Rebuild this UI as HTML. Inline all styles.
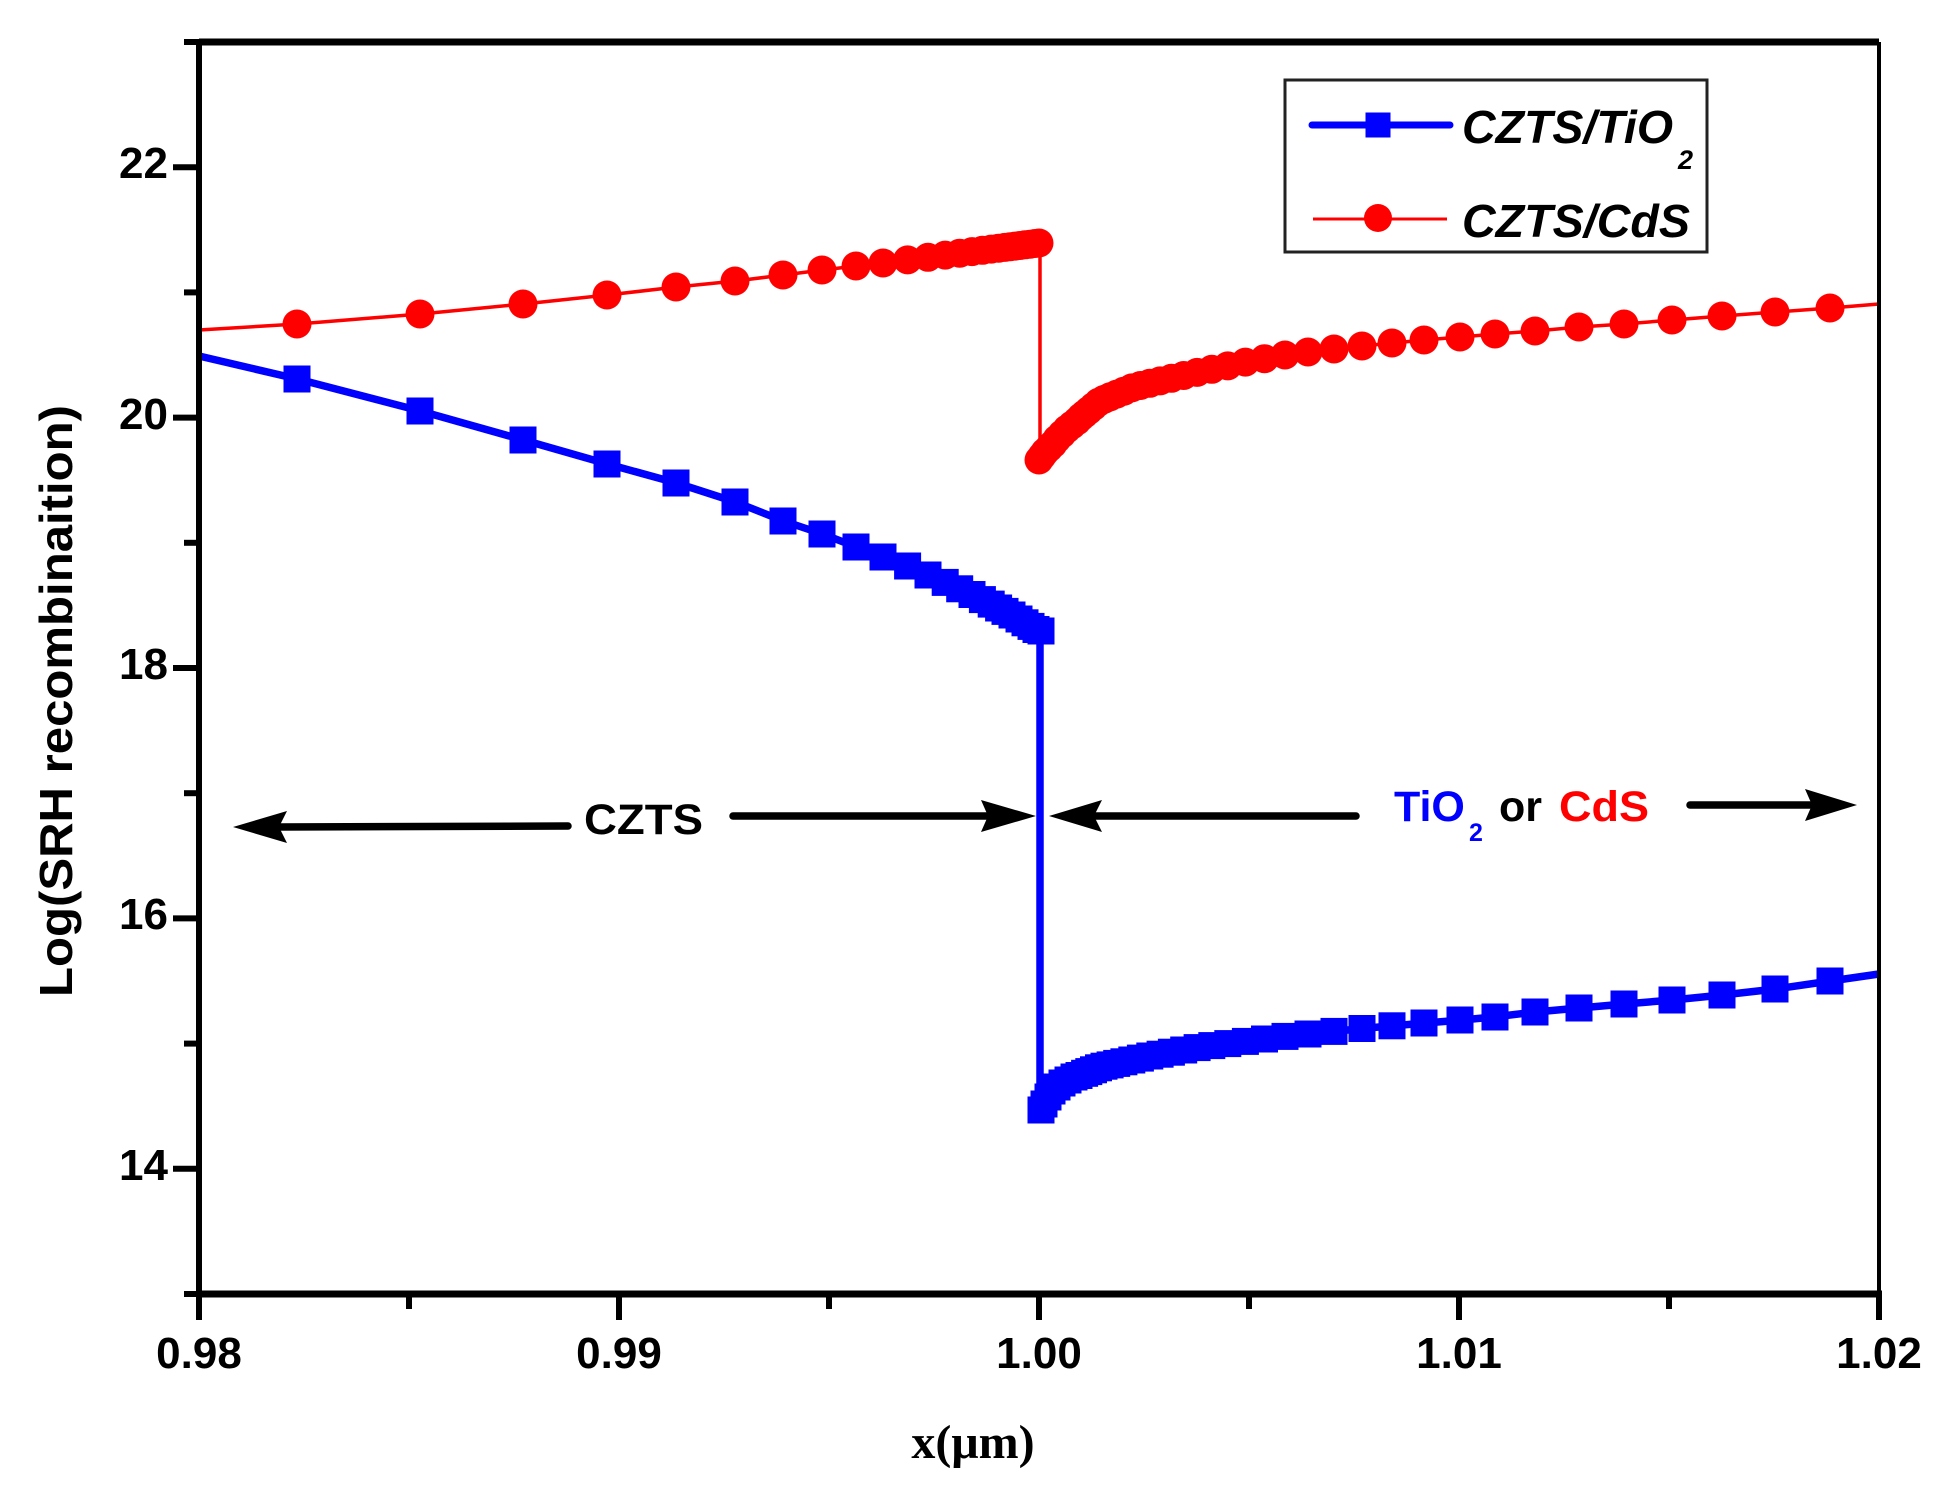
<!DOCTYPE html>
<html>
<head>
<meta charset="utf-8">
<style>
  html,body{margin:0;padding:0;background:#ffffff;}
  svg{display:block;}
  text{font-family:"Liberation Sans", Arial, sans-serif;}
</style>
</head>
<body>
<svg width="1944" height="1492" viewBox="0 0 1944 1492" xmlns="http://www.w3.org/2000/svg">
  <rect x="0" y="0" width="1944" height="1492" fill="#ffffff"/>

  <!-- ===== Red series: CZTS/CdS ===== -->
  <g fill="#ff0000" stroke="none">
    <polyline fill="none" stroke="#ff0000" stroke-width="3.5" stroke-linejoin="round"
      points="199,330 297.5,324 420.5,314 523.5,304 607.5,295 676.5,287 735.5,281 783.5,275 822.5,270 856.5,266 883.5,263 1040,243 1040,460 1049,448 1059,437 1074,423 1100,401 1134,387 1164,380 1199,372 1246,362 1285.5,355 1308.5,352 1334.5,349 1362.5,346 1392.5,343 1424.5,340 1460.5,337 1495.5,334 1535.5,331 1579.5,327 1624.5,324 1672.5,320 1722.5,316 1775.5,312 1830.5,308 1879,304"/>
    <!-- left markers -->
    <circle cx="297" cy="324" r="14.5"/><circle cx="420" cy="314" r="14.5"/><circle cx="523" cy="304" r="14.5"/>
    <circle cx="607" cy="295" r="14.5"/><circle cx="676" cy="287" r="14.5"/><circle cx="735" cy="281" r="14.5"/>
    <circle cx="783" cy="275" r="14.5"/><circle cx="822" cy="270" r="14.5"/><circle cx="856" cy="266" r="14.5"/>
    <circle cx="883" cy="263" r="14.5"/><circle cx="907.6" cy="259.9" r="14.5"/><circle cx="928" cy="257.3" r="14.5"/>
    <circle cx="945.2" cy="255.1" r="14.5"/><circle cx="959.7" cy="253.2" r="14.5"/><circle cx="972" cy="251.6" r="14.5"/>
    <circle cx="982.4" cy="250.3" r="14.5"/><circle cx="991.2" cy="249.1" r="14.5"/><circle cx="998.6" cy="248.2" r="14.5"/>
    <circle cx="1004.9" cy="247.4" r="14.5"/><circle cx="1010.2" cy="246.7" r="14.5"/><circle cx="1015" cy="246.1" r="14.5"/>
    <circle cx="1020" cy="245.5" r="14.5"/><circle cx="1025" cy="244.8" r="14.5"/><circle cx="1030" cy="244.2" r="14.5"/>
    <circle cx="1035" cy="243.5" r="14.5"/><circle cx="1039" cy="243" r="14.5"/>
    <!-- right markers -->
    <circle cx="1039" cy="460" r="14.5"/><circle cx="1042" cy="456" r="14.5"/><circle cx="1045" cy="452" r="14.5"/>
    <circle cx="1049" cy="448" r="14.5"/><circle cx="1053" cy="444" r="14.5"/><circle cx="1057" cy="439" r="14.5"/>
    <circle cx="1062" cy="434" r="14.5"/><circle cx="1067" cy="429" r="14.5"/><circle cx="1072" cy="425" r="14.5"/>
    <circle cx="1077" cy="421" r="14.5"/><circle cx="1081" cy="417" r="14.5"/>
    <circle cx="1084.6" cy="414" r="14.5"/><circle cx="1088.8" cy="410.5" r="14.5"/><circle cx="1093.5" cy="406.5" r="14.5"/>
    <circle cx="1098.5" cy="402.3" r="14.5"/><circle cx="1104" cy="399.4" r="14.5"/><circle cx="1110.1" cy="396.8" r="14.5"/>
    <circle cx="1116.7" cy="394.1" r="14.5"/><circle cx="1123.9" cy="391.2" r="14.5"/><circle cx="1131.8" cy="387.9" r="14.5"/>
    <circle cx="1140.4" cy="385.5" r="14.5"/><circle cx="1149.8" cy="383.3" r="14.5"/><circle cx="1160.1" cy="380.9" r="14.5"/>
    <circle cx="1171.4" cy="378.3" r="14.5"/><circle cx="1183.7" cy="375.5" r="14.5"/><circle cx="1197.1" cy="372.4" r="14.5"/>
    <circle cx="1211.8" cy="369.3" r="14.5"/><circle cx="1227.8" cy="365.9" r="14.5"/><circle cx="1245.4" cy="362.1" r="14.5"/>
    <circle cx="1264.5" cy="358.7" r="14.5"/><circle cx="1285" cy="355" r="14.5"/><circle cx="1308" cy="352" r="14.5"/>
    <circle cx="1334" cy="349" r="14.5"/><circle cx="1362" cy="346" r="14.5"/><circle cx="1392" cy="343" r="14.5"/>
    <circle cx="1424" cy="340" r="14.5"/><circle cx="1460" cy="337" r="14.5"/><circle cx="1495" cy="334" r="14.5"/>
    <circle cx="1535" cy="331" r="14.5"/><circle cx="1579" cy="327" r="14.5"/><circle cx="1624" cy="324" r="14.5"/>
    <circle cx="1672" cy="320" r="14.5"/><circle cx="1722" cy="316" r="14.5"/><circle cx="1775" cy="312" r="14.5"/>
    <circle cx="1830" cy="308" r="14.5"/>
  </g>

  <!-- ===== Blue series: CZTS/TiO2 ===== -->
  <g fill="#0000ff" stroke="none">
    <polyline fill="none" stroke="#0000ff" stroke-width="7.5" stroke-linejoin="round"
      points="199,356 297.5,379 420.5,411 523.5,440 607.5,464 676.5,483 735.5,502 783.5,521 822.5,534 856.5,547 883.5,557 907.5,566 930.5,576 953.5,586 977.5,597 1000.5,609 1019,619 1040,631 1040,1110 1050.5,1093 1067.5,1080 1100.5,1067 1150,1056 1200.5,1047 1289,1036 1367.5,1028 1425.5,1023 1462,1020 1493.5,1017 1535.5,1012 1579.5,1008 1624.5,1004 1672.5,1000 1722.5,995 1775.5,989 1830.5,981 1879,974"/>
    <!-- left markers -->
    <rect x="283.5" y="365.5" width="27" height="27"/><rect x="406.5" y="397.5" width="27" height="27"/>
    <rect x="509.5" y="426.5" width="27" height="27"/><rect x="593.5" y="450.5" width="27" height="27"/>
    <rect x="662.5" y="469.5" width="27" height="27"/><rect x="721.5" y="488.5" width="27" height="27"/>
    <rect x="769.5" y="507.5" width="27" height="27"/><rect x="808.5" y="520.5" width="27" height="27"/>
    <rect x="842.5" y="533.5" width="27" height="27"/><rect x="869.5" y="543.5" width="27" height="27"/>
    <rect x="894.1" y="552.5" width="27" height="27"/><rect x="914.5" y="561.5" width="27" height="27"/>
    <rect x="931.7" y="568.9" width="27" height="27"/><rect x="946.2" y="575.3" width="27" height="27"/>
    <rect x="958.5" y="581" width="27" height="27"/><rect x="968.9" y="586.1" width="27" height="27"/>
    <rect x="977.7" y="590.6" width="27" height="27"/><rect x="985.1" y="594.5" width="27" height="27"/>
    <rect x="991.5" y="597.9" width="27" height="27"/><rect x="998.5" y="601.5" width="27" height="27"/>
    <rect x="1005.5" y="605.5" width="27" height="27"/><rect x="1011.5" y="609.3" width="27" height="27"/>
    <rect x="1017.5" y="612.9" width="27" height="27"/><rect x="1022.5" y="616" width="27" height="27"/>
    <rect x="1027.5" y="617.5" width="27" height="27"/>
    <!-- right markers -->
    <rect x="1027.5" y="1096.5" width="27" height="27"/><rect x="1030.5" y="1090.5" width="27" height="27"/>
    <rect x="1034.5" y="1083.5" width="27" height="27"/><rect x="1038.5" y="1077.5" width="27" height="27"/>
    <rect x="1043.5" y="1073.5" width="27" height="27"/><rect x="1048.5" y="1069.5" width="27" height="27"/>
    <rect x="1054.5" y="1066.5" width="27" height="27"/><rect x="1060.5" y="1063.5" width="27" height="27"/>
    <rect x="1065.5" y="1062" width="27" height="27"/>
    <rect x="1071.1" y="1059.8" width="27" height="27"/><rect x="1075.3" y="1058.1" width="27" height="27"/>
    <rect x="1080" y="1056.3" width="27" height="27"/><rect x="1085" y="1054.3" width="27" height="27"/>
    <rect x="1090.5" y="1052.7" width="27" height="27"/><rect x="1096.6" y="1051.4" width="27" height="27"/>
    <rect x="1103.2" y="1049.9" width="27" height="27"/><rect x="1110.4" y="1048.3" width="27" height="27"/>
    <rect x="1118.3" y="1046.5" width="27" height="27"/><rect x="1126.9" y="1044.6" width="27" height="27"/>
    <rect x="1136.3" y="1042.5" width="27" height="27"/><rect x="1146.6" y="1040.7" width="27" height="27"/>
    <rect x="1157.9" y="1038.7" width="27" height="27"/><rect x="1170.2" y="1036.5" width="27" height="27"/>
    <rect x="1183.6" y="1034.1" width="27" height="27"/><rect x="1198.3" y="1032.1" width="27" height="27"/>
    <rect x="1214.3" y="1030.1" width="27" height="27"/><rect x="1231.9" y="1027.9" width="27" height="27"/>
    <rect x="1251" y="1025.5" width="27" height="27"/><rect x="1271.5" y="1022.9" width="27" height="27"/>
    <rect x="1294.5" y="1020.5" width="27" height="27"/><rect x="1320.5" y="1017.9" width="27" height="27"/>
    <rect x="1348.5" y="1015" width="27" height="27"/><rect x="1378.5" y="1012.3" width="27" height="27"/>
    <rect x="1410.5" y="1009.5" width="27" height="27"/><rect x="1446.5" y="1006.5" width="27" height="27"/>
    <rect x="1481.5" y="1003.5" width="27" height="27"/><rect x="1521.5" y="998.5" width="27" height="27"/>
    <rect x="1565.5" y="994.5" width="27" height="27"/><rect x="1610.5" y="990.5" width="27" height="27"/>
    <rect x="1658.5" y="986.5" width="27" height="27"/><rect x="1708.5" y="981.5" width="27" height="27"/>
    <rect x="1761.5" y="975.5" width="27" height="27"/><rect x="1816.5" y="967.5" width="27" height="27"/>
  </g>

  <!-- ===== Annotation arrows ===== -->
  <g fill="#000" stroke="#000" stroke-linecap="round">
    <line x1="279" y1="827" x2="568" y2="826" stroke-width="7.5"/>
    <polygon points="233,827 287,811 279,827 287,843" stroke="none"/>
    <line x1="733" y1="816" x2="988" y2="816" stroke-width="7.5"/>
    <polygon points="1036,816 981,800 988,816 981,832" stroke="none"/>
    <line x1="1094" y1="816" x2="1356" y2="816" stroke-width="7.5"/>
    <polygon points="1049,816 1102,800 1094,816 1102,832" stroke="none"/>
    <line x1="1690" y1="805" x2="1812" y2="805" stroke-width="7.5"/>
    <polygon points="1857,805 1805,789 1812,805 1805,821" stroke="none"/>
  </g>
  <text x="584" y="834" font-size="43" font-weight="bold" fill="#000" textLength="119" lengthAdjust="spacingAndGlyphs">CZTS</text>
  <text x="1394" y="821" font-size="43" font-weight="bold" fill="#0000ff">TiO</text>
  <text x="1469" y="841" font-size="25" font-weight="bold" fill="#0000ff">2</text>
  <text x="1499" y="821" font-size="43" font-weight="bold" fill="#000">or</text>
  <text x="1559" y="821" font-size="43" font-weight="bold" fill="#ff0000" textLength="90" lengthAdjust="spacingAndGlyphs">CdS</text>

  <!-- ===== Axes ===== -->
  <g stroke="#000" fill="none">
    <line x1="199" y1="42" x2="1879" y2="42" stroke-width="7"/>
    <line x1="196" y1="1294" x2="1882" y2="1294" stroke-width="7"/>
    <line x1="199" y1="39" x2="199" y2="1297" stroke-width="6"/>
    <line x1="1879" y1="42" x2="1879" y2="1297" stroke-width="4"/>
    <!-- y major ticks -->
    <line x1="173" y1="167.2" x2="199" y2="167.2" stroke-width="6"/>
    <line x1="173" y1="417.6" x2="199" y2="417.6" stroke-width="6"/>
    <line x1="173" y1="668" x2="199" y2="668" stroke-width="6"/>
    <line x1="173" y1="918.4" x2="199" y2="918.4" stroke-width="6"/>
    <line x1="173" y1="1168.8" x2="199" y2="1168.8" stroke-width="6"/>
    <!-- y minor ticks -->
    <line x1="184" y1="42" x2="199" y2="42" stroke-width="6"/>
    <line x1="184" y1="292.4" x2="199" y2="292.4" stroke-width="6"/>
    <line x1="184" y1="542.8" x2="199" y2="542.8" stroke-width="6"/>
    <line x1="184" y1="793.2" x2="199" y2="793.2" stroke-width="6"/>
    <line x1="184" y1="1043.6" x2="199" y2="1043.6" stroke-width="6"/>
    <line x1="184" y1="1294" x2="199" y2="1294" stroke-width="6"/>
    <!-- x major ticks -->
    <line x1="199" y1="1294" x2="199" y2="1320" stroke-width="6"/>
    <line x1="619" y1="1294" x2="619" y2="1320" stroke-width="6"/>
    <line x1="1039" y1="1294" x2="1039" y2="1320" stroke-width="6"/>
    <line x1="1459" y1="1294" x2="1459" y2="1320" stroke-width="6"/>
    <line x1="1879" y1="1294" x2="1879" y2="1320" stroke-width="6"/>
    <!-- x minor ticks -->
    <line x1="409" y1="1294" x2="409" y2="1309" stroke-width="6"/>
    <line x1="829" y1="1294" x2="829" y2="1309" stroke-width="6"/>
    <line x1="1249" y1="1294" x2="1249" y2="1309" stroke-width="6"/>
    <line x1="1669" y1="1294" x2="1669" y2="1309" stroke-width="6"/>
  </g>

  <!-- y tick labels -->
  <g font-size="44" font-weight="bold" fill="#000" text-anchor="end">
    <text x="168" y="178">22</text>
    <text x="168" y="429">20</text>
    <text x="168" y="679">18</text>
    <text x="168" y="929">16</text>
    <text x="168" y="1180">14</text>
  </g>
  <!-- x tick labels -->
  <g font-size="44" font-weight="bold" fill="#000" text-anchor="middle">
    <text x="199" y="1368">0.98</text>
    <text x="619" y="1368">0.99</text>
    <text x="1039" y="1368">1.00</text>
    <text x="1459" y="1368">1.01</text>
    <text x="1879" y="1368">1.02</text>
  </g>

  <!-- axis titles -->
  <text x="973" y="1458" font-size="48" font-weight="bold" text-anchor="middle" fill="#000"
        style="font-family:'Liberation Serif','Times New Roman',serif;">x(μm)</text>
  <text transform="translate(72,701) rotate(-90)" x="0" y="0" font-size="46" font-weight="bold"
        text-anchor="middle" fill="#000" textLength="592" lengthAdjust="spacingAndGlyphs">Log(SRH recombinaition)</text>

  <!-- ===== Legend ===== -->
  <rect x="1285" y="80" width="422" height="172" fill="#ffffff" stroke="#222" stroke-width="3"/>
  <line x1="1312" y1="125" x2="1450" y2="125" stroke="#0000ff" stroke-width="7" stroke-linecap="round"/>
  <rect x="1365.5" y="112.5" width="25" height="25" fill="#0000ff"/>
  <line x1="1313" y1="219" x2="1447" y2="219" stroke="#ff0000" stroke-width="3"/>
  <circle cx="1378" cy="218" r="14" fill="#ff0000"/>
  <text x="1462" y="143" font-size="46" font-weight="bold" font-style="italic" fill="#000" textLength="211" lengthAdjust="spacingAndGlyphs">CZTS/TiO</text>
  <text x="1678" y="169" font-size="27" font-weight="bold" font-style="italic" fill="#000">2</text>
  <text x="1462" y="237" font-size="46" font-weight="bold" font-style="italic" fill="#000" textLength="228" lengthAdjust="spacingAndGlyphs">CZTS/CdS</text>
</svg>
</body>
</html>
